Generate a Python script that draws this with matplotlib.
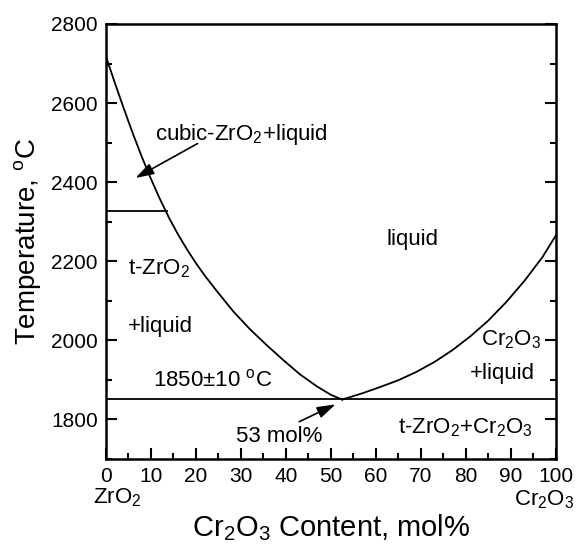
import matplotlib
matplotlib.use("Agg")
import matplotlib.pyplot as plt
from matplotlib.ticker import MultipleLocator

plt.rcParams["font.family"] = "Liberation Sans"
plt.rcParams["mathtext.fontset"] = "custom"
plt.rcParams["mathtext.rm"] = "Liberation Sans"
plt.rcParams["mathtext.it"] = "Liberation Sans:italic"

# liquidus, ZrO2 side (mol% Cr2O3, deg C)
liq_zr_x = [0, 2, 4, 6, 8, 10, 12, 14, 16, 18, 20, 22, 24.6, 28.3,
            32, 35.7, 39.4, 43.1, 46.8, 50, 52.5]
liq_zr_t = [2718, 2650, 2585, 2522, 2463, 2408, 2357, 2310, 2268, 2230,
            2195, 2163, 2125, 2073, 2028, 1988, 1950, 1914, 1884, 1862, 1850]

# liquidus, Cr2O3 side
liq_cr_x = [52.5, 57, 61, 65, 69, 73, 77, 81, 85, 89, 93, 97, 100]
liq_cr_t = [1850, 1866, 1882, 1899, 1920, 1945, 1975, 2010, 2050, 2097,
            2150, 2210, 2265]

# cubic -> tetragonal ZrO2 line and eutectic line
ct_x = [0, 13.6]
ct_t = [2327, 2327]
eut_x = [0, 100]
eut_t = [1851, 1851]

fig = plt.figure(figsize=(5.76, 5.45), dpi=100)
ax = fig.add_axes([0.184, 0.158, 0.781, 0.798])

kw = dict(color="black", lw=1.3)
ax.plot(liq_zr_x, liq_zr_t, **kw)
ax.plot(liq_cr_x, liq_cr_t, **kw)
ax.plot(ct_x, ct_t, **kw)
ax.plot(eut_x, eut_t, **kw)

ax.set_xlim(0, 100)
ax.set_ylim(1700, 2800)
ax.xaxis.set_major_locator(MultipleLocator(10))
ax.xaxis.set_minor_locator(MultipleLocator(5))
ax.yaxis.set_major_locator(MultipleLocator(200))
ax.yaxis.set_minor_locator(MultipleLocator(100))
ax.tick_params(which="both", direction="in", top=False, right=True,
               width=1.5, labelsize=15)
ax.tick_params(which="major", length=8, pad=6)
ax.tick_params(which="minor", length=4)
for s in ax.spines.values():
    s.set_linewidth(1.8)

ax.set_xlabel("Cr$_2$O$_3$ Content, mol%", fontsize=21, labelpad=19)
ax.set_ylabel("Temperature, $^{\\rm o}$C", fontsize=20, labelpad=6)

fs = 16
ax.text(10.9, 2521, "cubic-ZrO$_2$+liquid", fontsize=fs, va="center")
ax.annotate("", xy=(6.0, 2407), xytext=(20.9, 2501),
            arrowprops=dict(arrowstyle="-|>,head_length=0.8,head_width=0.25",
                            color="black", lw=1.2, mutation_scale=14))
ax.text(68.2, 2254, "liquid", fontsize=fs, ha="center", va="center")
ax.text(4.9, 2181, "t-ZrO$_2$", fontsize=fs, va="center")
ax.text(4.9, 2035, "+liquid", fontsize=fs, va="center")
ax.text(10.4, 1899, "1850\u00b110 $^{\\rm o}$C", fontsize=fs, va="center")
ax.text(83.3, 2001, "Cr$_2$O$_3$", fontsize=fs, va="center")
ax.text(80.9, 1917, "+liquid", fontsize=fs, va="center")
ax.text(29, 1756, "53 mol%", fontsize=fs, va="center")
ax.annotate("", xy=(51.6, 1841), xytext=(42.4, 1791),
            arrowprops=dict(arrowstyle="-|>,head_length=0.8,head_width=0.25",
                            color="black", lw=1.2, mutation_scale=14))
ax.text(64.9, 1779, "t-ZrO$_2$+Cr$_2$O$_3$", fontsize=fs, va="center")

# end-member names under the axis ends
fig.text(93 / 576, 1 - 498 / 545, "ZrO$_2$", fontsize=fs, va="center")
fig.text(574 / 576, 1 - 500 / 545, "Cr$_2$O$_3$", fontsize=fs,
         ha="right", va="center")

fig.savefig("out.png", dpi=100)
